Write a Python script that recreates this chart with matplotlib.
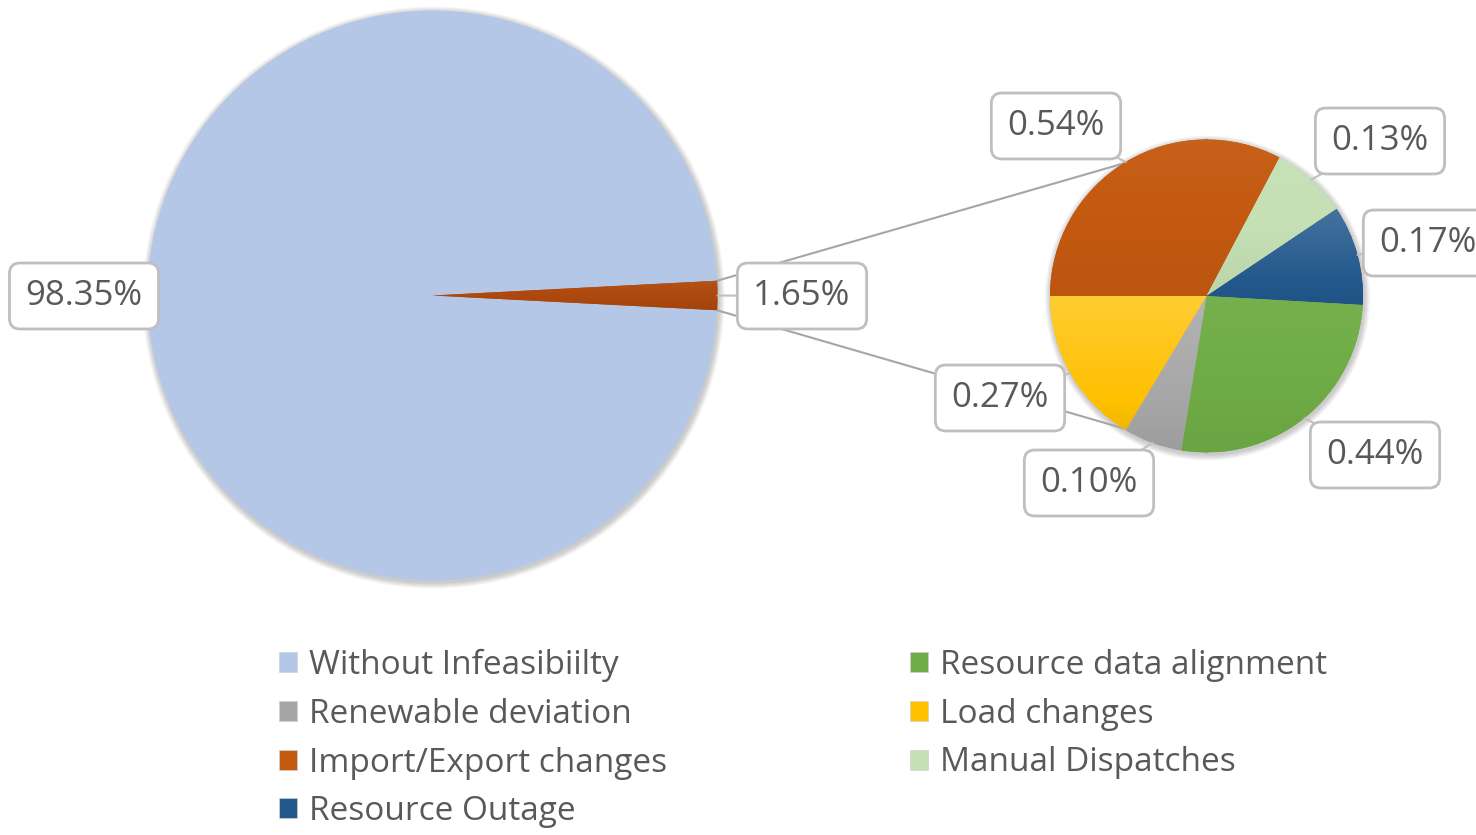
import numpy as np
import matplotlib
matplotlib.use("Agg")
import matplotlib.pyplot as plt
from matplotlib.patches import Patch, Circle
from matplotlib.colors import to_rgb

# ---------------- data ----------------
main_labels = ["Without Infeasibiilty", "Other"]
main_values = [98.35, 1.65]

sub_labels = ["Import/Export changes", "Manual Dispatches", "Resource Outage",
              "Resource data alignment", "Renewable deviation", "Load changes"]
sub_values = [0.54, 0.13, 0.17, 0.44, 0.10, 0.27]

legend_order = ["Without Infeasibiilty", "Renewable deviation", "Import/Export changes",
                "Resource Outage", "Resource data alignment", "Load changes",
                "Manual Dispatches"]

# ---------------- styles ----------------
colors = {
    "Without Infeasibiilty": "#B4C7E7",
    "Other": "#B04A0F",
    "Import/Export changes": "#C55A11",
    "Manual Dispatches": "#C5E0B4",
    "Resource Outage": "#22588C",
    "Resource data alignment": "#70AD47",
    "Renewable deviation": "#A5A5A5",
    "Load changes": "#FFC000",
}
gradient_top = {
    "Import/Export changes": 0.04,
    "Manual Dispatches": 0.05,
    "Resource Outage": 0.16,
    "Resource data alignment": 0.04,
    "Renewable deviation": 0.16,
    "Load changes": 0.2,
}

W, H = 1476, 835
plt.rcParams['font.family'] = ['Open Sans', 'DejaVu Sans']
TXT = "#595959"
EDGE = "#BFBFBF"


def P(x, y):
    return (x, H - y)


fig = plt.figure(figsize=(W / 100, H / 100), dpi=100)
ax = fig.add_axes([0, 0, 1, 1])

c1, r1 = P(432.5, 295.5), 285
c2, r2 = P(1206.5, 296), 156.5

# soft shadows
for c, r in [(c1, r1), (c2, r2)]:
    for k in range(1, 7):
        ax.add_patch(Circle((c[0] + 1, c[1] - 2), r + k, color="black",
                            alpha=0.035, lw=0, zorder=0.5))

half = main_values[1] / sum(main_values) * 360 / 2
w1, _ = ax.pie(main_values, colors=[colors[l] for l in main_labels],
               startangle=half, counterclock=True, center=c1, radius=r1,
               wedgeprops=dict(edgecolor="none"), normalize=True)
w2, _ = ax.pie(sub_values, colors=[colors[l] for l in sub_labels],
               startangle=180, counterclock=False, center=c2, radius=r2,
               wedgeprops=dict(edgecolor="none"), normalize=True)
for w in list(w1) + list(w2):
    w.set_zorder(2)


def shade(wedge, top=0.18, bottom=-0.06):
    """Excel-like vertical gradient clipped to a wedge."""
    base = np.array(to_rgb(wedge.get_facecolor()[:3]))
    ext = wedge.get_path().get_extents()
    x0, y0, x1, y1 = ext.x0, ext.y0, ext.x1, ext.y1
    t = np.linspace(0, 1, 64)[:, None]  # 0 bottom -> 1 top
    amt = bottom + (top - bottom) * t
    cols = np.where(amt[..., None] > 0,
                    base + (1 - base) * amt[..., None],
                    base * (1 + amt[..., None]))
    img = np.repeat(cols, 2, axis=1)
    im = ax.imshow(np.clip(img, 0, 1), extent=(x0, x1, y0, y1), origin="lower",
                   aspect="auto", zorder=2.1, interpolation="bilinear")
    im.set_clip_path(wedge)


for w, lab in zip(w2, sub_labels):
    shade(w, top=gradient_top[lab], bottom=-0.05)
shade(w1[1], top=0.05, bottom=-0.08)

# series lines connecting the "Other" wedge to the secondary pie
ow = w1[1]
for th, ty in [(ow.theta2, c2[1] + r2), (ow.theta1, c2[1] - r2)]:
    x0 = c1[0] + r1 * np.cos(np.radians(th))
    y0 = c1[1] + r1 * np.sin(np.radians(th))
    ax.plot([x0, c2[0]], [y0, ty], color="#A6A6A6", lw=1.5, zorder=1)

# data labels (positions are layout only)
label_pos = {
    "Without Infeasibiilty": P(84, 296),
    "Other": P(802, 296),
    "Import/Export changes": P(1056, 126),
    "Manual Dispatches": P(1380, 141),
    "Resource Outage": P(1428, 243),
    "Resource data alignment": P(1375, 455),
    "Renewable deviation": P(1089, 483),
    "Load changes": P(1000, 398),
}


def add_labels(wedges, labels, values, c, r):
    for w, lab, v in zip(wedges, labels, values):
        mid = np.radians((w.theta1 + w.theta2) / 2)
        xy = (c[0] + r * np.cos(mid), c[1] + r * np.sin(mid))
        ax.annotate(f"{v:.2f}%", xy=xy, xytext=label_pos[lab],
                    ha="center", va="center", fontsize=25, color=TXT, zorder=5,
                    bbox=dict(boxstyle="round,pad=0.46,rounding_size=0.3",
                              fc="white", ec=EDGE, lw=2),
                    arrowprops=dict(arrowstyle="-", color=EDGE, lw=1.5,
                                    shrinkA=0, shrinkB=0))


add_labels(w1, main_labels, main_values, c1, r1)
add_labels(w2, sub_labels, sub_values, c2, r2)

ax.set_xlim(0, W)
ax.set_ylim(0, H)
ax.set_aspect("equal")
ax.axis("off")

# legend (two columns)
handles = [Patch(facecolor=colors[l], edgecolor="#D0D0D0", lw=0.5, label=l)
           for l in legend_order]
common = dict(frameon=False, fontsize=24, handlelength=0.55, handleheight=0.55,
              handletextpad=0.35, labelspacing=0.47, borderpad=0, borderaxespad=0,
              labelcolor=TXT, loc="upper left")
leg1 = fig.legend(handles=handles[:4], bbox_to_anchor=(279 / W, 1 - 649 / H), **common)
leg2 = fig.legend(handles=handles[4:], bbox_to_anchor=(910 / W, 1 - 649 / H), **common)

fig.savefig("out.png", dpi=100)
